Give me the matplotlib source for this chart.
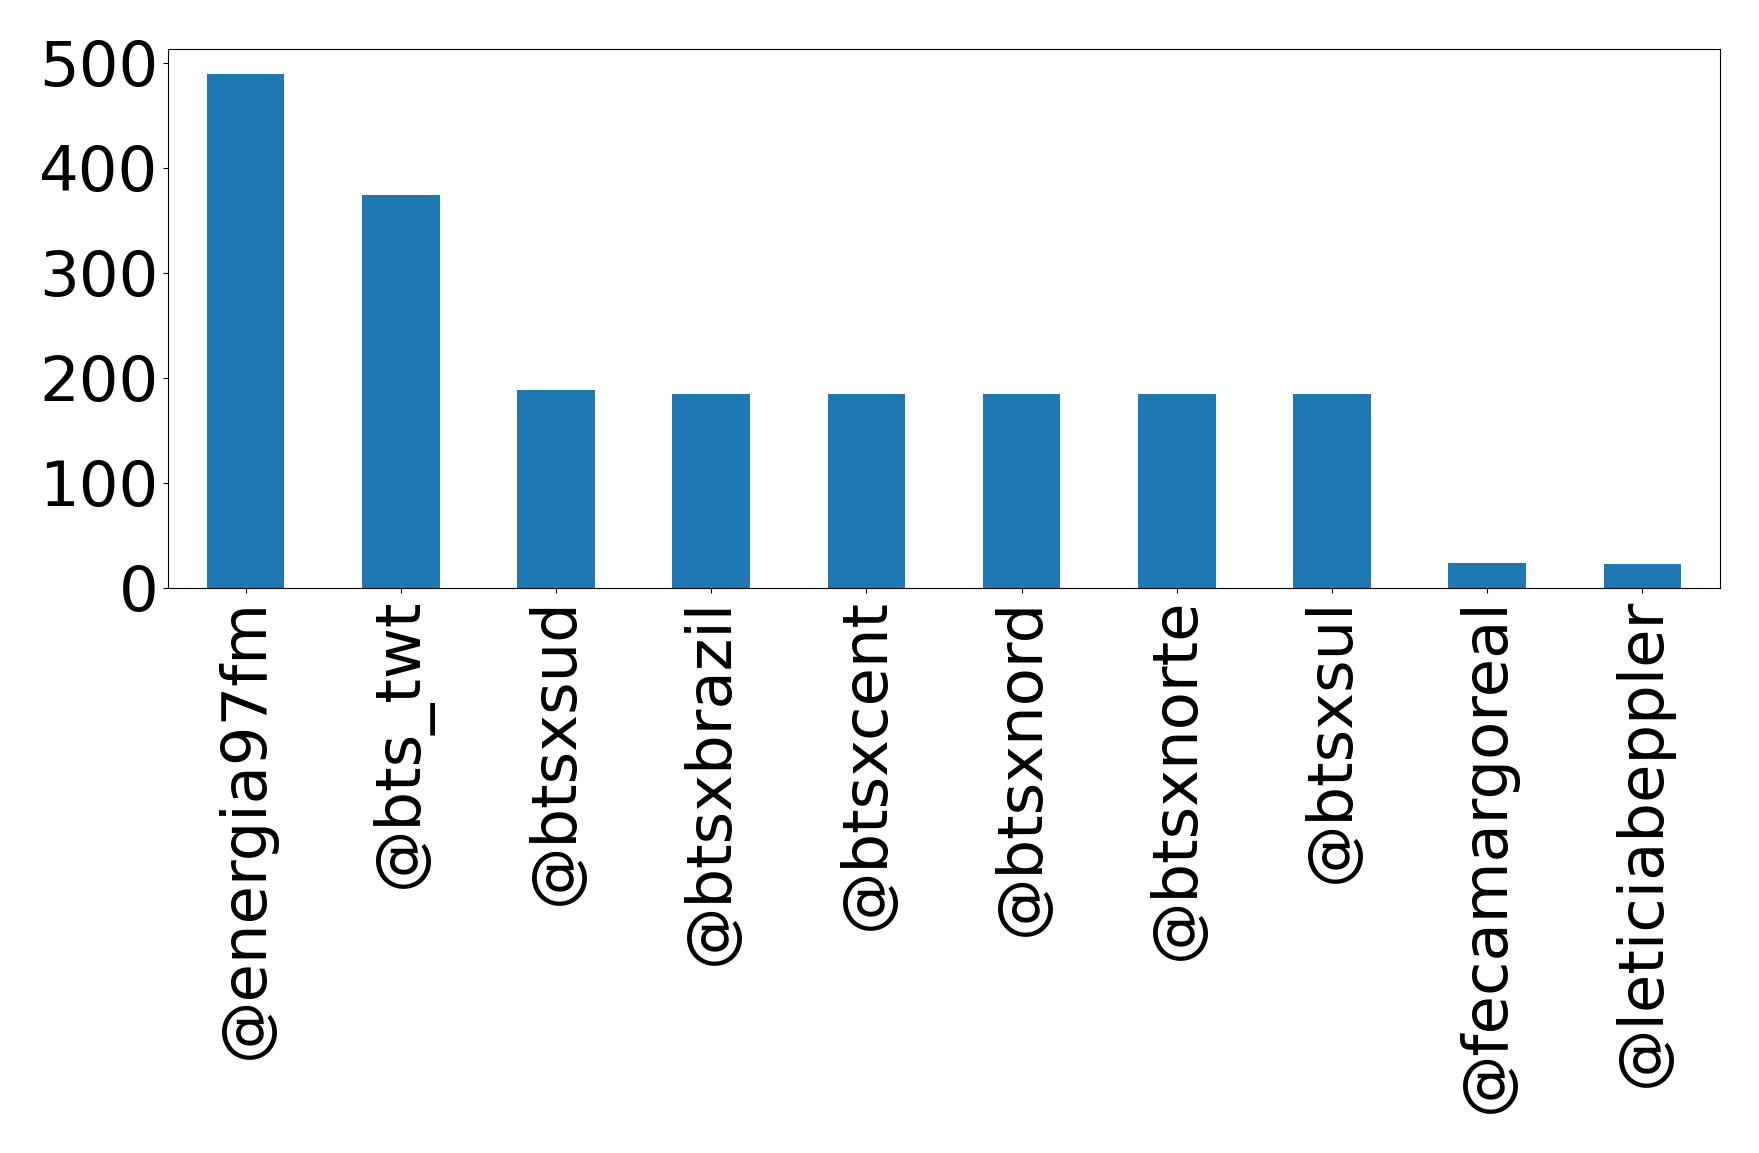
import matplotlib
matplotlib.use("Agg")
import matplotlib.pyplot as plt

categories = ["@energia97fm", "@bts_twt", "@btsxsud", "@btsxbrazil", "@btsxcent",
              "@btsxnord", "@btsxnorte", "@btsxsul", "@fecamargoreal", "@leticiabeppler"]
values = [489, 374, 188, 185, 185, 185, 185, 185, 24, 23]

fig = plt.figure(figsize=(17.59, 11.53), dpi=100)
left, right, top, bottom = 168, 1720, 49, 588
ax = fig.add_axes([left/1759, 1 - bottom/1153, (right-left)/1759, (bottom-top)/1153])
x = list(range(len(categories)))
ax.bar(x, values, width=0.5, color="#1f77b4")
ax.set_xlim(-0.5, len(categories) - 0.5)
ax.set_ylim(0, 513)
ax.set_yticks([0, 100, 200, 300, 400, 500])
ax.set_xticks(x)
ax.set_xticklabels(categories, rotation=90)
ax.tick_params(axis="both", labelsize=45)
fig.savefig("out.png", dpi=100)
